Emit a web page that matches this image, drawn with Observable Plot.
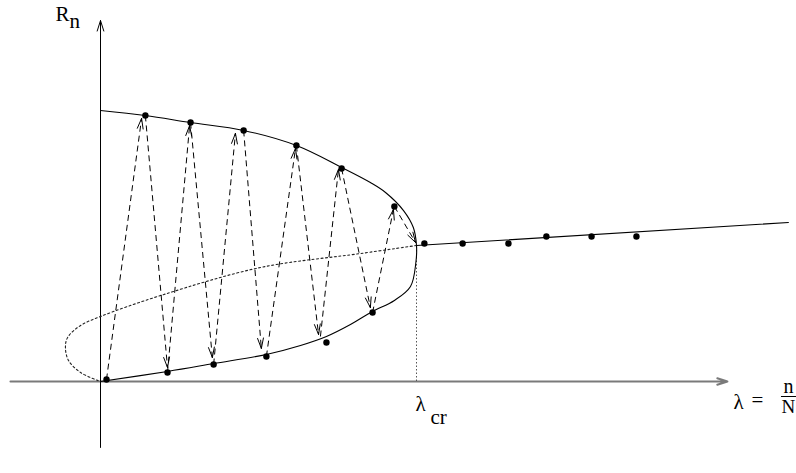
<!DOCTYPE html>
<html>
<head>
<meta charset="utf-8">
<script src="https://cdn.jsdelivr.net/npm/d3@7"></script>
<script src="https://cdn.jsdelivr.net/npm/@observablehq/plot@0.6"></script>
<style>
  html, body { margin: 0; padding: 0; background: #fff; }
  #chart { width: 796px; height: 473px; }
</style>
</head>
<body>
<div id="chart"></div>
<script>
// ---- data (λ = n/N with λcr = 1, R_n) ----
const lambdaCr = 1;

// stable upper branch of the solid curve, from λ = 0 to the turning point
const upperL = [0, 0.142, 0.285, 0.453, 0.620, 0.763, 0.854, 0.902, 0.959, 0.990, 1.000];
const upperR = [1.993, 1.956, 1.904, 1.846, 1.735, 1.574, 1.463, 1.390, 1.257, 1.132, 1.000];

// lower branch of the solid curve, from the turning point back to the origin
const lowerL = [0.998, 0.981, 0.930, 0.861, 0.791, 0.715, 0.633, 0.525, 0.358, 0.212, 0];
const lowerR = [0.875, 0.699, 0.596, 0.515, 0.419, 0.331, 0.265, 0.199, 0.132, 0.074, 0];

// unstable (dotted) branch
const unstableL = [1.000, 0.823, 0.506, 0.190, 0, -0.063, -0.104, -0.111, -0.101, -0.063, 0];
const unstableR = [1.000, 0.941, 0.838, 0.632, 0.478, 0.412, 0.324, 0.250, 0.154, 0.066, 0];

// line beyond λcr
const beyondL = [1.000, 2.177];
const beyondR = [1.000, 1.169];

// iterates (dots)
const iterL = [0.019, 0.142, 0.212, 0.285, 0.358, 0.453, 0.525, 0.620, 0.715, 0.763, 0.861, 0.930,
               1.025, 1.146, 1.291, 1.411, 1.554, 1.696];
const iterR = [0.015, 1.956, 0.066, 1.904, 0.125, 1.846, 0.184, 1.735, 0.287, 1.566, 0.507, 1.287,
               1.015, 1.015, 1.015, 1.066, 1.066, 1.066];

// dashed jump arrows
const fromL = [0.019, 0.142, 0.212, 0.285, 0.358, 0.453, 0.525, 0.620, 0.696, 0.763, 0.861, 0.930];
const fromR = [0.015, 1.956, 0.066, 1.904, 0.125, 1.846, 0.184, 1.735, 0.331, 1.566, 0.507, 1.287];
const toL   = [0.130, 0.212, 0.282, 0.354, 0.427, 0.509, 0.617, 0.690, 0.753, 0.854, 0.927, 0.997];
const toR   = [1.934, 0.103, 1.882, 0.176, 1.824, 0.243, 1.713, 0.346, 1.559, 0.544, 1.265, 1.022];

// ---- layout ----
const W = 796, H = 473;
const xDomain = [-100 / 316, 696 / 316];
const yDomain = [-92 / 136, 381 / 136];

const pts = (L, R) => L.map((l, i) => ({l, r: R[i]}));
const solid = pts(upperL, upperR).concat(pts(lowerL, lowerR));
const unstable = pts(unstableL, unstableR);
const beyond = pts(beyondL, beyondR);
const iterates = pts(iterL, iterR);
const arrows = fromL.map((l, i) => ({l1: l, r1: fromR[i], l2: toL[i], r2: toR[i]}));

// arrowhead helper segments (a fixed pixel length back from each tip)
const xs = Plot.scale({x: {domain: xDomain, range: [0, W]}});
const ys = Plot.scale({y: {domain: yDomain, range: [H, 0]}});
const heads = arrows.map(a => {
  const x1 = xs.apply(a.l1), y1 = ys.apply(a.r1), x2 = xs.apply(a.l2), y2 = ys.apply(a.r2);
  const k = 40 / Math.hypot(x2 - x1, y2 - y1);
  return {hl: xs.invert(x2 - (x2 - x1) * k), hr: ys.invert(y2 - (y2 - y1) * k), l2: a.l2, r2: a.r2};
});

const font = "'Liberation Serif', 'Times New Roman', serif";
const lbl = (s, o) => Plot.text([s], Object.assign({lineAnchor: "bottom", textAnchor: "start",
  fontFamily: font, fontSize: 21, fill: "black"}, o));

const chart = Plot.plot({
  width: W,
  height: H,
  margin: 0,
  x: {domain: xDomain, axis: null},
  y: {domain: yDomain, axis: null},
  style: {fontFamily: font, background: "#fff", overflow: "visible"},
  marks: [
    // axes
    Plot.arrow([0], {x1: -0.285, x2: 1.984, y1: 0, y2: 0, stroke: "#7a7a7a", strokeWidth: 2,
      headLength: 8, headAngle: 36}),
    Plot.arrow([0], {x1: 0, x2: 0, y1: -0.485, y2: 2.654, stroke: "black", strokeWidth: 1,
      headLength: 16.5, headAngle: 35}),
    // λcr marker
    Plot.ruleX([lambdaCr], {y1: 0, y2: 1, stroke: "#555", strokeDasharray: "1.5,2"}),
    // unstable branch
    Plot.line(unstable, {x: "l", y: "r", curve: "catmull-rom", stroke: "#222", strokeWidth: 1.1,
      strokeDasharray: "2,2.5"}),
    // solid branches
    Plot.line(solid, {x: "l", y: "r", curve: "catmull-rom", stroke: "black", strokeWidth: 1.1}),
    Plot.line(beyond, {x: "l", y: "r", stroke: "black", strokeWidth: 1.1}),
    // dashed jumps
    Plot.link(arrows, {x1: "l1", y1: "r1", x2: "l2", y2: "r2", stroke: "black", strokeWidth: 1,
      strokeDasharray: "6,4"}),
    Plot.arrow(heads, {x1: "hl", y1: "hr", x2: "l2", y2: "r2", stroke: "black", strokeWidth: 1,
      insetStart: 38, headLength: 16, headAngle: 32}),
    // iterates
    Plot.dot(iterates, {x: "l", y: "r", r: 3.2, fill: "black", stroke: "none"}),
    // labels
    lbl("R", {frameAnchor: "top-left", dx: 55, dy: 20}),
    lbl("n", {frameAnchor: "top-left", dx: 69, dy: 27}),
    lbl("λ", {x: [lambdaCr], y: [0], dx: -1, dy: 29}),
    lbl("cr", {x: [lambdaCr], y: [0], dx: 14, dy: 42}),
    lbl("λ", {frameAnchor: "top-left", dx: 733, dy: 408}),
    lbl("=", {frameAnchor: "top-left", dx: 751, dy: 406}),
    lbl("n", {frameAnchor: "top-left", dx: 783, dy: 392, fontSize: 20}),
    Plot.ruleY([0], {x1: 2.155, x2: 2.2025, dy: 15, stroke: "black", strokeWidth: 1}),
    lbl("N", {frameAnchor: "top-left", dx: 781, dy: 412, fontSize: 19})
  ]
});
document.getElementById("chart").appendChild(chart);
</script>
</body>
</html>
